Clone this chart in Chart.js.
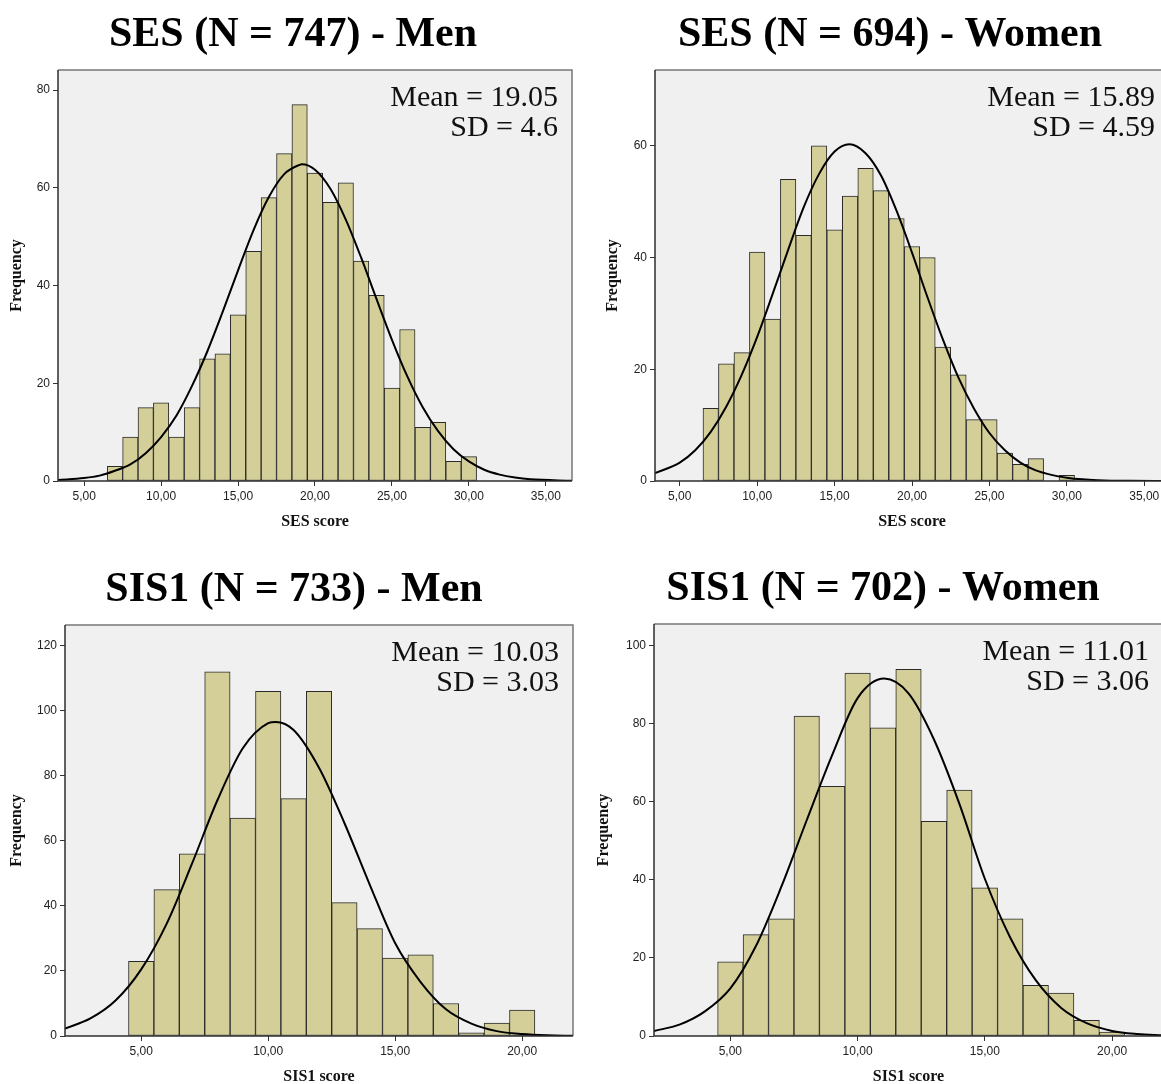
<!DOCTYPE html>
<html>
<head>
<meta charset="utf-8">
<script src="https://cdn.jsdelivr.net/npm/chart.js@4.4.1/dist/chart.umd.min.js"></script>
<style>
html,body{margin:0;padding:0;background:#fff;overflow:hidden;width:1161px;height:1084px;}
#wrap{position:relative;width:1161px;height:1084px;overflow:hidden;background:#fff;}
canvas{position:absolute;}
</style>
</head>
<body>
<div id="wrap">
<canvas id="c1" width="586" height="540" style="left:0px;top:0px;width:586px;height:540px"></canvas>
<canvas id="c2" width="586" height="540" style="left:597px;top:0px;width:586px;height:540px"></canvas>
<canvas id="c3" width="588" height="540" style="left:0px;top:555px;width:588px;height:540px"></canvas>
<canvas id="c4" width="586" height="541" style="left:590px;top:554px;width:586px;height:541px"></canvas>
</div>
<script>
// ---------------- DATA ----------------
// SES histograms: bin centres (score) and frequencies
const sesBins = [7,8,9,10,11,12,13,14,15,16,17,18,19,20,21,22,23,24,25,26,27,28,29,30];
const sesMen   = [3,9,15,16,9,15,25,26,34,47,58,67,77,63,57,61,45,38,19,31,11,12,4,5];
const sesWomen = [13,21,23,41,29,54,44,60,45,51,56,52,47,42,40,24,19,11,11,5,3,4,0,1];

// SIS1 histograms
const sisBins = [5,6,7,8,9,10,11,12,13,14,15,16,17,18,19,20];
const sisMen   = [23,45,56,112,67,106,73,106,41,33,24,25,10,1,4,8];
const sisWomen = [19,26,30,82,64,93,79,94,55,63,38,30,13,11,4,1];

// Normal curves (x position, frequency height)
const sesMenCurveX = [3.3,5,6,7,8,9,10,11,12,13,14,15,16,17,18,19,19.15,20,21,22,23,24,25,26,27,28,29,30,31,32,33,34,36.7];
const sesMenCurveY = [0.2,0.6,1.1,2.1,3.4,5.7,9.0,13.4,19.4,26.5,34.6,43.1,51.3,58.1,62.8,64.7,64.8,63.7,59.8,53.5,45.7,37.2,28.9,21.4,15.1,10.2,6.5,4.0,2.3,1.3,0.7,0.35,0.05];

const sesWomenCurveX = [3.4,5,6,7,8,9,10,11,12,13,14,15,15.95,17,18,19,20,21,22,23,24,25,26,27,28,29,30,31,32,34,36.6];
const sesWomenCurveY = [1.4,3.3,5.5,8.8,13.3,19.0,25.8,33.5,41.4,49.0,55.0,59.0,60.3,58.7,54.7,48.4,40.9,32.9,25.3,18.5,13.0,8.6,5.5,3.3,1.9,1.1,0.6,0.3,0.15,0.03,0.0];

const sisMenCurveX = [2,3,4,5,6,7,8,9,10,10.3,11,12,13,14,15,16,17,18,19,20,21,22];
const sisMenCurveY = [2.3,5.4,11.0,20.5,34.5,53.0,72.5,88.5,96.2,96.6,94.1,82.5,65.5,46.5,28.5,16.6,8.2,3.8,1.5,0.6,0.2,0.06];

const sisWomenCurveX = [2,3,4,5,6,7,8,9,10,11.05,12,13,14,15,16,17,18,19,20,21,22];
const sisWomenCurveY = [1.3,2.9,6.3,12.2,23.0,38.2,55.3,72.0,86.6,91.6,87.8,76.0,59.5,40.3,25.2,14.3,7.2,3.3,1.3,0.5,0.17];

// Tick labels
const sesXTicks = [5,10,15,20,25,30,35];
const sisXTicks = [5,10,15,20];
const sesMenYTicks = [0,20,40,60,80];
const sesWomenYTicks = [0,20,40,60];
const sisMenYTicks = [0,20,40,60,80,100,120];
const sisWomenYTicks = [0,20,40,60,80,100];

// Texts
const titles = ['SES (N = 747) - Men','SES (N = 694) - Women','SIS1 (N = 733) - Men','SIS1 (N = 702) - Women'];
const statsText = [['Mean = 19.05','SD = 4.6'],['Mean = 15.89','SD = 4.59'],['Mean = 10.03','SD = 3.03'],['Mean = 11.01','SD = 3.06']];
const xTitles = ['SES score','SES score','SIS1 score','SIS1 score'];
const yTitle = 'Frequency';

// ---------------- RENDERING ----------------
const SERIF = '"Liberation Serif", "Times New Roman", serif';
const SANS = '"Liberation Sans", Arial, sans-serif';

const panelPlugin = {
  id: 'panel',
  beforeDraw(chart) {
    const a = chart.chartArea, ctx = chart.ctx;
    ctx.save();
    ctx.fillStyle = '#f0f0f0';
    ctx.fillRect(a.left, a.top, a.right - a.left, a.bottom - a.top);
    ctx.restore();
  },
  afterDraw(chart, args, opts) {
    const a = chart.chartArea, ctx = chart.ctx;
    ctx.save();
    ctx.lineWidth = 1.5;
    ctx.strokeStyle = '#777';
    ctx.beginPath();
    ctx.moveTo(a.left, a.top); ctx.lineTo(a.right, a.top); ctx.lineTo(a.right, a.bottom);
    ctx.stroke();
    ctx.strokeStyle = '#2e2e2e';
    ctx.beginPath();
    ctx.moveTo(a.left, a.top); ctx.lineTo(a.left, a.bottom); ctx.lineTo(a.right, a.bottom);
    ctx.stroke();
    ctx.fillStyle = '#111';
    ctx.font = '30px ' + SERIF;
    ctx.textAlign = 'right';
    ctx.textBaseline = 'alphabetic';
    (opts.stats || []).forEach((t, i) => {
      ctx.fillText(t, a.right - 14, a.top + 36 + i * 30);
    });
    ctx.restore();
  }
};

function makeChart(id, d, L) {
  const tickGrid = {display:true, drawOnChartArea:false, drawTicks:true, tickLength:5, tickColor:'#333', lineWidth:1, offset:false};
  return new Chart(document.getElementById(id), {
    type: 'bar',
    data: {
      datasets: [
        { type:'line', data: d.curveX.map((x,i)=>({x:x, y:d.curveY[i]})),
          borderColor:'#000', borderWidth:2, pointRadius:0, cubicInterpolationMode:'monotone', fill:false, order:0 },
        { type:'bar', data: d.bins.map((x,i)=>({x:x, y:d.counts[i]})),
          backgroundColor:'#d4cf99', borderColor:'#2a2a2a', borderWidth:1, borderSkipped:false,
          barPercentage:1, categoryPercentage:1, grouped:false, order:1 }
      ]
    },
    options: {
      responsive:false, animation:false, events:[],
      layout:{ padding:0 },
      plugins:{
        legend:{display:false}, tooltip:{enabled:false},
        title:{ display:true, text:d.title, color:'#000',
                font:{family:SERIF, size:42, weight:'bold', lineHeight:1.2}, padding:{top:10, bottom:9.6} },
        panel:{ stats:d.stats }
      },
      scales:{
        x:{ type:'linear', min:L.xMin, max:L.xMax, offset:false,
            afterBuildTicks: s => { s.ticks = d.xTicks.map(v=>({value:v})); },
            afterFit: s => { s.height = 59; },
            grid: tickGrid, border:{display:false},
            ticks:{ padding:3, color:'#222', font:{family:SANS, size:12}, maxRotation:0, autoSkip:false,
                    callback: v => Number(v).toFixed(2).replace('.', ',') },
            title:{ display:true, text:d.xTitle, color:'#111', font:{family:SERIF, size:16, weight:'bold'},
                    padding:{top:0, bottom:9} } },
        y:{ type:'linear', min:0, max:L.yMax,
            afterBuildTicks: s => { s.ticks = d.yTicks.map(v=>({value:v})); },
            afterFit: s => { s.width = L.yWidth; },
            grid: tickGrid, border:{display:false},
            ticks:{ padding:3, color:'#222', font:{family:SANS, size:12}, callback: v => String(v) },
            title:{ display:true, text:yTitle, color:'#111', font:{family:SERIF, size:16, weight:'bold'},
                    padding:{top:L.yTitlePad, bottom:0} } },
        // empty right-hand spacer so the full-width title stays centred on the whole panel
        yr:{ type:'linear', position:'right', display:true, min:0, max:1,
             afterFit: s => { s.width = L.padRight; },
             ticks:{display:false}, grid:{display:false, drawTicks:false}, border:{display:false}, title:{display:false} }
      }
    },
    plugins:[panelPlugin]
  });
}

makeChart('c1',
  {bins:sesBins, counts:sesMen, curveX:sesMenCurveX, curveY:sesMenCurveY, xTicks:sesXTicks, yTicks:sesMenYTicks,
   title:titles[0], stats:statsText[0], xTitle:xTitles[0]},
  {xMin:3.3, xMax:36.7, yMax:84.1, yWidth:58, padRight:14, yTitlePad:7});
makeChart('c2',
  {bins:sesBins, counts:sesWomen, curveX:sesWomenCurveX, curveY:sesWomenCurveY, xTicks:sesXTicks, yTicks:sesWomenYTicks,
   title:titles[1], stats:statsText[1], xTitle:xTitles[1]},
  {xMin:3.4, xMax:36.6, yMax:73.6, yWidth:58, padRight:14, yTitlePad:6});
makeChart('c3',
  {bins:sisBins, counts:sisMen, curveX:sisMenCurveX, curveY:sisMenCurveY, xTicks:sisXTicks, yTicks:sisMenYTicks,
   title:titles[2], stats:statsText[2], xTitle:xTitles[2]},
  {xMin:2, xMax:22, yMax:126.4, yWidth:65, padRight:15, yTitlePad:7});
makeChart('c4',
  {bins:sisBins, counts:sisWomen, curveX:sisWomenCurveX, curveY:sisWomenCurveY, xTicks:sisXTicks, yTicks:sisWomenYTicks,
   title:titles[3], stats:statsText[3], xTitle:xTitles[3]},
  {xMin:2, xMax:22, yMax:105.6, yWidth:64, padRight:13, yTitlePad:4});
</script>
</body>
</html>
